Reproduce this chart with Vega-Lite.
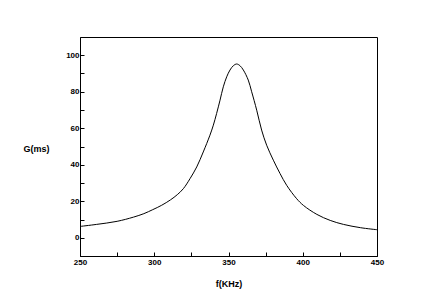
{
  "$schema": "https://vega.github.io/schema/vega-lite/v6.json",
  "width": 297,
  "height": 219,
  "autosize": "none",
  "padding": {"left": 80, "top": 37, "right": 63, "bottom": 52},
  "background": "white",
  "config": {
    "view": {"stroke": "black", "strokeWidth": 1},
    "axis": {
      "domainColor": "black",
      "tickColor": "black",
      "labelColor": "black",
      "titleColor": "black",
      "labelFont": "Liberation Sans",
      "titleFont": "Liberation Sans",
      "labelFontSize": 8,
      "titleFontSize": 9,
      "labelFontWeight": "bold",
      "titleFontWeight": "bold",
      "grid": false,
      "tickSize": -4,
      "labelFlush": false
    }
  },
  "data": {
    "values": [
      {"f": 250, "G": 6.2},
      {"f": 261, "G": 7.3},
      {"f": 275, "G": 9.0},
      {"f": 286, "G": 11.3},
      {"f": 293, "G": 13.2},
      {"f": 299, "G": 15.4},
      {"f": 305, "G": 17.8},
      {"f": 311, "G": 20.8},
      {"f": 315.5, "G": 23.6},
      {"f": 319.6, "G": 26.9},
      {"f": 324.1, "G": 32.4},
      {"f": 328.6, "G": 38.8},
      {"f": 333, "G": 47.0},
      {"f": 337.5, "G": 56.2},
      {"f": 339.8, "G": 61.7},
      {"f": 342, "G": 68.1},
      {"f": 344.3, "G": 75.4},
      {"f": 346.5, "G": 82.7},
      {"f": 348.8, "G": 88.2},
      {"f": 351, "G": 91.9},
      {"f": 353.3, "G": 94.3},
      {"f": 355.5, "G": 95.2},
      {"f": 357.7, "G": 94.3},
      {"f": 360, "G": 91.9},
      {"f": 363.3, "G": 86.4},
      {"f": 365.6, "G": 80.0},
      {"f": 369, "G": 69.9},
      {"f": 372.3, "G": 59.0},
      {"f": 375.7, "G": 50.7},
      {"f": 380.2, "G": 42.5},
      {"f": 384.7, "G": 35.2},
      {"f": 389.2, "G": 28.7},
      {"f": 395.9, "G": 21.4},
      {"f": 400.5, "G": 17.7},
      {"f": 409.5, "G": 12.8},
      {"f": 418.5, "G": 9.5},
      {"f": 427.5, "G": 7.3},
      {"f": 439, "G": 5.5},
      {"f": 450, "G": 4.4}
    ]
  },
  "mark": {"type": "line", "color": "black", "strokeWidth": 1, "interpolate": "catmull-rom"},
  "encoding": {
    "x": {
      "field": "f",
      "type": "quantitative",
      "scale": {"domain": [250, 450], "nice": false, "zero": false},
      "axis": {
        "title": "f(KHz)",
        "values": [250, 275, 300, 325, 350, 375, 400, 425, 450],
        "labelExpr": "datum.value % 50 === 0 ? datum.label : ''",
        "labelPadding": 6,
        "titleBaseline": "middle",
        "titleY": 27
      }
    },
    "y": {
      "field": "G",
      "type": "quantitative",
      "scale": {"domain": [-10, 110], "nice": false, "zero": false},
      "axis": {
        "title": "G(ms)",
        "values": [0, 10, 20, 30, 40, 50, 60, 70, 80, 90, 100],
        "labelExpr": "datum.value % 20 === 0 ? datum.label : ''",
        "labelPadding": 5,
        "titleAngle": 0,
        "titleAlign": "left",
        "titleBaseline": "middle",
        "titleX": -57,
        "titleY": 111
      }
    }
  }
}
